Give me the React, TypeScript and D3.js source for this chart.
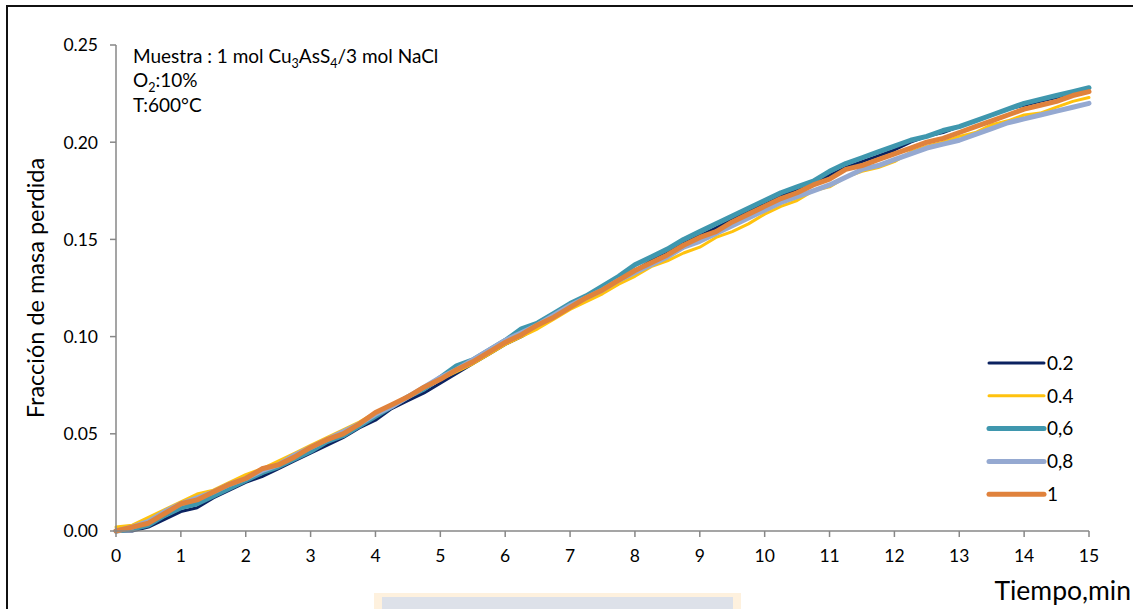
import React from "react";
import * as d3 from "d3";

// Sampling times (min)
const times: number[] = d3.range(0, 15.001, 0.25).map((t) => +t.toFixed(2));

// Mass-loss fraction for each NaCl ratio series
const s02: number[] = [
  0.0, 0.0, 0.002, 0.006, 0.01, 0.012, 0.017, 0.021, 0.025, 0.028, 0.032, 0.036, 0.04, 0.044, 0.048, 0.053,
  0.057, 0.063, 0.067, 0.071, 0.076, 0.081, 0.086, 0.091, 0.096, 0.1, 0.105, 0.11, 0.115, 0.12, 0.124, 0.129,
  0.134, 0.139, 0.143, 0.148, 0.152, 0.156, 0.16, 0.165, 0.168, 0.172, 0.176, 0.179, 0.183, 0.187, 0.19, 0.193,
  0.196, 0.2, 0.203, 0.205, 0.208, 0.211, 0.214, 0.217, 0.219, 0.221, 0.223, 0.226, 0.228,
];
const s04: number[] = [
  0.002, 0.003, 0.007, 0.011, 0.015, 0.019, 0.021, 0.025, 0.029, 0.032, 0.036, 0.04, 0.044, 0.048, 0.052, 0.056,
  0.061, 0.065, 0.069, 0.073, 0.078, 0.082, 0.086, 0.091, 0.096, 0.1, 0.104, 0.109, 0.114, 0.118, 0.122, 0.127,
  0.131, 0.136, 0.139, 0.143, 0.146, 0.151, 0.154, 0.158, 0.163, 0.167, 0.17, 0.175, 0.177, 0.182, 0.185, 0.187,
  0.19, 0.195, 0.198, 0.2, 0.203, 0.205, 0.209, 0.211, 0.214, 0.215, 0.218, 0.221, 0.223,
];
const s06: number[] = [
  0.0, 0.001, 0.003, 0.008, 0.012, 0.014, 0.018, 0.022, 0.026, 0.03, 0.033, 0.037, 0.041, 0.046, 0.049, 0.054,
  0.059, 0.064, 0.069, 0.073, 0.079, 0.085, 0.088, 0.093, 0.098, 0.104, 0.107, 0.112, 0.117, 0.121, 0.126, 0.131,
  0.137, 0.141, 0.145, 0.15, 0.154, 0.158, 0.162, 0.166, 0.17, 0.174, 0.177, 0.18, 0.185, 0.189, 0.192, 0.195,
  0.198, 0.201, 0.203, 0.206, 0.208, 0.211, 0.214, 0.217, 0.22, 0.222, 0.224, 0.226, 0.228,
];
const s08: number[] = [
  0.0, 0.002, 0.005, 0.01, 0.014, 0.017, 0.02, 0.024, 0.027, 0.031, 0.034, 0.039, 0.043, 0.047, 0.051, 0.055,
  0.06, 0.064, 0.069, 0.074, 0.079, 0.083, 0.088, 0.093, 0.098, 0.102, 0.106, 0.111, 0.116, 0.12, 0.124, 0.129,
  0.133, 0.137, 0.141, 0.146, 0.149, 0.153, 0.157, 0.161, 0.165, 0.169, 0.172, 0.175, 0.178, 0.182, 0.186, 0.188,
  0.191, 0.194, 0.197, 0.199, 0.201, 0.204, 0.207, 0.21, 0.212, 0.214, 0.216, 0.218, 0.22,
];
const s10: number[] = [
  0.0, 0.002, 0.004, 0.009, 0.014, 0.016, 0.02, 0.024, 0.027, 0.032, 0.034, 0.038, 0.043, 0.047, 0.05, 0.055,
  0.061, 0.065, 0.069, 0.074, 0.078, 0.083, 0.087, 0.092, 0.097, 0.101, 0.106, 0.11, 0.115, 0.12, 0.124, 0.129,
  0.134, 0.138, 0.142, 0.147, 0.151, 0.154, 0.159, 0.163, 0.167, 0.171, 0.174, 0.178, 0.181, 0.186, 0.188, 0.191,
  0.194, 0.197, 0.2, 0.202, 0.205, 0.208, 0.211, 0.214, 0.217, 0.219, 0.221, 0.224, 0.226,
];

const seriesNames: string[] = ["0.2", "0.4", "0,6", "0,8", "1"];
const seriesValues: number[][] = [s02, s04, s06, s08, s10];
const seriesColors: string[] = ["#0B2260", "#FFC20E", "#3F97AE", "#95A9D1", "#E0823C"];
const seriesWidths: number[] = [3, 3, 5, 5, 5];

const xTicks: number[] = d3.range(0, 16, 1);
const yTicks: number[] = [0, 0.05, 0.1, 0.15, 0.2, 0.25];

const W = 1133;
const H = 609;
const FONT = "Lato, 'Open Sans', sans-serif";

export default function App() {
  const left = 116;
  const right = 1089;
  const top = 45;
  const bottom = 531;

  const x = d3.scaleLinear().domain([0, 15]).range([left, right]);
  const y = d3.scaleLinear().domain([0, 0.25]).range([bottom, top]);

  const line = d3
    .line<number>()
    .x((_, i) => x(times[i]))
    .y((d) => y(d));

  const axisColor = "#878787";
  const legendX0 = 989;
  const legendX1 = 1044;
  const legendY0 = 363;
  const legendStep = 32.8;

  return (
    <div style={{ position: "fixed", left: 0, top: 0, width: W, height: H, background: "#fff" }}>
      <svg width={W} height={H} style={{ display: "block", fontFamily: FONT }}>
        <rect x={0} y={0} width={W} height={H} fill="#fff" />
        {/* outer chart frame */}
        <rect x={7} y={6} width={1132} height={612} fill="none" stroke="#111" strokeWidth={2} />

        {/* faint caption box below the chart */}
        <rect x={374} y={593} width={367} height={30} fill="#FEF1DE" />
        <rect x={382} y={597} width={351} height={30} fill="#DDE1E9" />

        {/* series */}
        {seriesValues.map((vals, i) => (
          <path
            key={seriesNames[i]}
            d={line(vals) || ""}
            fill="none"
            stroke={seriesColors[i]}
            strokeWidth={seriesWidths[i]}
            strokeLinejoin="round"
            strokeLinecap="round"
          />
        ))}

        {/* y axis */}
        <line x1={left} x2={left} y1={top} y2={bottom} stroke={axisColor} strokeWidth={1.5} />
        {yTicks.map((t) => (
          <g key={"y" + t}>
            <line x1={left - 6} x2={left} y1={y(t)} y2={y(t)} stroke={axisColor} strokeWidth={1.5} />
            <text x={98} y={y(t)} dy="0.36em" textAnchor="end" fontSize={17.5} fill="#000">
              {d3.format(".2f")(t)}
            </text>
          </g>
        ))}

        {/* x axis */}
        <line x1={left} x2={right} y1={bottom} y2={bottom} stroke={axisColor} strokeWidth={1.5} />
        {xTicks.map((t) => (
          <g key={"x" + t}>
            <line x1={x(t)} x2={x(t)} y1={bottom} y2={bottom + 6} stroke={axisColor} strokeWidth={1.5} />
            <text x={x(t)} y={562} textAnchor="middle" fontSize={17.5} fill="#000">
              {t}
            </text>
          </g>
        ))}

        {/* axis titles */}
        <text
          transform={`translate(44, 288) rotate(-90)`}
          textAnchor="middle"
          fontSize={23.5}
          fill="#000"
        >
          Fracción de masa perdida
        </text>
        <text x={1131} y={600} textAnchor="end" fontSize={26.5} fill="#000">
          Tiempo,min
        </text>

        {/* sample conditions */}
        <g fontSize={19} fill="#000">
          <text x={133} y={63}>
            Muestra : 1 mol Cu
            <tspan fontSize={12.5} dy={5}>3</tspan>
            <tspan dy={-5}>AsS</tspan>
            <tspan fontSize={12.5} dy={5}>4</tspan>
            <tspan dy={-5}>/3 mol NaCl</tspan>
          </text>
          <text x={133} y={87}>
            O<tspan fontSize={12.5} dy={5}>2</tspan>
            <tspan dy={-5}>:10%</tspan>
          </text>
          <text x={133} y={112}>T:600°C</text>
        </g>

        {/* legend */}
        {seriesNames.map((n, i) => {
          const ly = legendY0 + i * legendStep;
          return (
            <g key={"lg" + n}>
              <line
                x1={legendX0}
                x2={legendX1}
                y1={ly}
                y2={ly}
                stroke={seriesColors[i]}
                strokeWidth={seriesWidths[i]}
                strokeLinecap="round"
              />
              <text x={legendX1 + 3} y={ly} dy="0.36em" fontSize={19} fill="#000">
                {n}
              </text>
            </g>
          );
        })}
      </svg>
    </div>
  );
}
